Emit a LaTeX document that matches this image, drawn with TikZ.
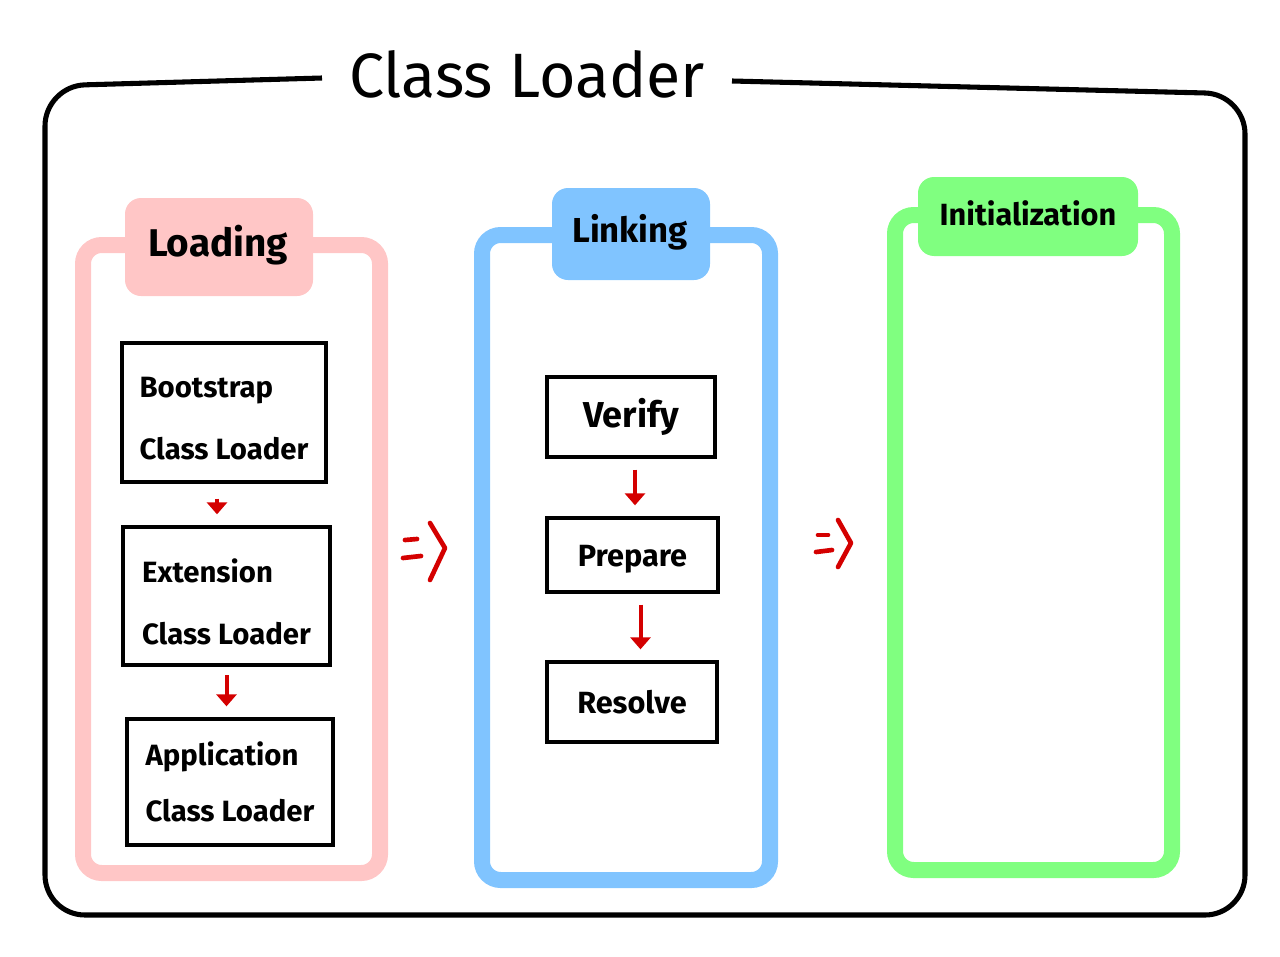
\documentclass[tikz,border=0pt]{standalone}
\usepackage{fontspec}
\setmainfont{Fira Sans}
\usetikzlibrary{arrows.meta,fit}
\definecolor{pinkc}{HTML}{FFC6C6}
\definecolor{bluec}{HTML}{80C4FF}
\definecolor{greenc}{HTML}{80FF80}
\definecolor{redc}{HTML}{D40000}
\tikzset{
  frame/.style={draw=black,line width=3.8pt,rounded corners=30pt},
  column/.style={draw=#1,line width=12pt,rounded corners=14pt,inner sep=0pt},
  tab/.style={fill=#1,draw=none,rounded corners=12pt,inner sep=0pt},
  stepbox/.style={draw=black,line width=3pt,inner sep=0pt},
  lbl/.style={text=black,inner sep=0pt,align=left,font=\bfseries\fontsize{#1}{#1}\selectfont},
  twoline/.style={text=black,inner sep=0pt,align=left,font=\bfseries\fontsize{22}{46}\selectfont},
  flow/.style={draw=redc,line width=3pt,-{Triangle[length=9pt,width=15pt]}},
  bigarrow/.style={draw=redc,line width=3.5pt,line cap=round,line join=round},
}
\begin{document}
\begin{tikzpicture}[x=0.75pt,y=-0.75pt]
\useasboundingbox (0,0) rectangle (1280,956);
% outer frame
\draw[frame] (322,78) -- (45,86) -- (45,915) -- (1245,915) -- (1245,94) -- (732,81);
\node[text=black,inner sep=0pt,font=\fontsize{47}{47}\selectfont] (title) at (527,74) {Class Loader};
% columns
\node[column=pinkc, fit={(83,245)(380,873)}] (loading) {};
\node[column=bluec, fit={(482,235)(770,880)}] (linking) {};
\node[column=greenc, fit={(895,215)(1172,870)}] (init) {};
% tabs
\node[tab=pinkc, fit={(125,198)(313,296)}] (loadtab) {};
\node[lbl=29] at (218,245) {Loading};
\node[tab=bluec, fit={(552,188)(710,280)}] (linktab) {};
\node[lbl=26] at (630,232) {Linking};
\node[tab=greenc, fit={(918,177)(1138,256)}] (inittab) {};
\node[lbl=23] at (1028,213) {Initialization};
% loading boxes
\node[stepbox, fit={(122,343)(326,482)}] (boot) {};
\node[twoline] at ([yshift=-4.5pt]boot.center) {Bootstrap\\Class Loader};
\node[stepbox, fit={(123,527)(330,665)}] (ext) {};
\node[twoline] at ([yshift=-4.5pt]ext.center) {Extension\\Class Loader};
\node[stepbox, fit={(127,719)(333,845)}] (app) {};
\node[twoline, font=\bfseries\fontsize{22}{42}\selectfont] at (app) {Application\\Class Loader};
% linking boxes
\node[stepbox, fit={(547,377)(715,457)}] (verify) {};
\node[lbl=27] at (verify) {Verify};
\node[stepbox, fit={(547,518)(718,592)}] (prepare) {};
\node[lbl=23] at ([yshift=-3pt]prepare.center) {Prepare};
\node[stepbox, fit={(547,662)(717,742)}] (resolve) {};
\node[lbl=23] at (resolve) {Resolve};
% flow arrows
\draw[flow, shorten <=11pt, shorten >=8pt] (boot.south) ++(-7,0) coordinate (b1) (b1) -- (b1 |- ext.north);
\draw[flow, shorten <=6pt, shorten >=8pt] (ext.south) -- (ext.south |- app.north);
\draw[flow, shorten <=8pt, shorten >=8pt] (verify.south) ++(4,0) coordinate (v1) (v1) -- (v1 |- prepare.north);
\draw[flow, shorten <=8pt, shorten >=8pt] (prepare.south) ++(8,0) coordinate (p1) (p1) -- (p1 |- resolve.north);
% => arrows between columns
\draw[bigarrow] (405,540) -- (417,539);
\draw[bigarrow] (403,558) -- (421,556);
\draw[bigarrow] (430,523) -- (445,548) -- (430,580);
\draw[bigarrow] (818,535) -- (828,535);
\draw[bigarrow] (816,552) -- (832,550);
\draw[bigarrow] (838,520) -- (851,543) -- (838,567);
\end{tikzpicture}
\end{document}
